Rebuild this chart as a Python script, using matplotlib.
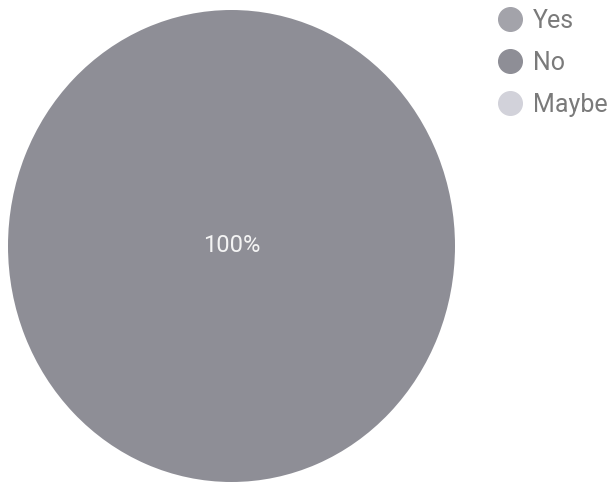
import matplotlib.pyplot as plt
from matplotlib.lines import Line2D

labels = ['Yes', 'No', 'Maybe']
values = [0, 100, 0]
colors = ['#a3a3aa', '#8e8e96', '#d2d2da']

plt.rcParams['font.family'] = ['Roboto', 'DejaVu Sans']

fig = plt.figure(figsize=(6.13, 4.87), dpi=100)
ax = fig.add_axes([8 / 613, 5 / 487, 447 / 613, 472 / 487])


def pct(p):
    return '%d%%' % round(p) if p > 0 else ''


wedges, texts, autotexts = ax.pie(values, colors=colors, startangle=90,
                                  counterclock=False, autopct=pct,
                                  pctdistance=0,
                                  textprops={'color': '#f4f4f4', 'fontsize': 17})
ax.set_aspect('auto')
ax.set_xlim(-1, 1)
ax.set_ylim(-1, 1)

handles = [Line2D([], [], marker='o', linestyle='none', markersize=17,
                  markerfacecolor=c, markeredgecolor=c) for c in colors]
fig.legend(handles, labels, loc='upper left',
           bbox_to_anchor=(490 / 613, 1 - 4 / 487),
           frameon=False, fontsize=18, labelcolor='#7a7a7a',
           handletextpad=0.32, labelspacing=0.72, borderaxespad=0,
           borderpad=0.2, handlelength=1.2)

plt.savefig('out.png')
